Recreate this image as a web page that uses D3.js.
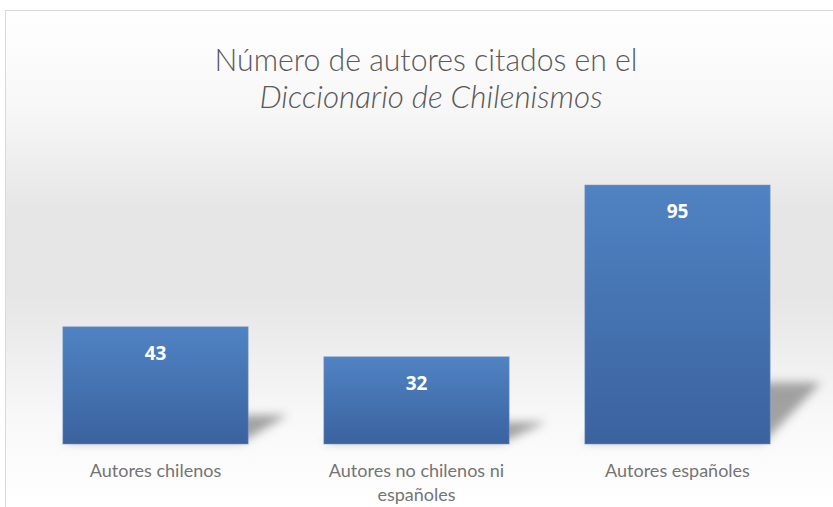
<!DOCTYPE html>
<html>
<head>
<meta charset="utf-8">
<script src="https://cdn.jsdelivr.net/npm/d3@7"></script>
<style>
  html, body { margin: 0; padding: 0; background: #fff; }
  svg { display: block; }
</style>
</head>
<body>
<svg id="chart"></svg>
<script>
const categories = [["Autores chilenos"], ["Autores no chilenos ni", "españoles"], ["Autores españoles"]]
const values = [43, 32, 95]
const titleLines = ["Número de autores citados en el", "Diccionario de Chilenismos"]

const width = 833
const height = 507
const svg = d3.select("#chart").attr("width", width).attr("height", height)

const defs = svg.append("defs")

// background of the chart area: white, grey in the middle, white again
const bg = defs.append("linearGradient").attr("id", "bg")
  .attr("gradientUnits", "userSpaceOnUse")
  .attr("x1", 0).attr("y1", 10).attr("x2", 0).attr("y2", 507)
bg.append("stop").attr("offset", "0%").attr("stop-color", "#ffffff")
bg.append("stop").attr("offset", "20%").attr("stop-color", "#f7f7f7")
bg.append("stop").attr("offset", "40%").attr("stop-color", "#e6e6e6")
bg.append("stop").attr("offset", "58%").attr("stop-color", "#e6e6e6")
bg.append("stop").attr("offset", "82%").attr("stop-color", "#f8f8f8")
bg.append("stop").attr("offset", "100%").attr("stop-color", "#ffffff")

const barGrad = defs.append("linearGradient").attr("id", "barGrad")
  .attr("x1", 0).attr("y1", 0).attr("x2", 0).attr("y2", 1)
barGrad.append("stop").attr("offset", "0%").attr("stop-color", "#5083c2")
barGrad.append("stop").attr("offset", "100%").attr("stop-color", "#3a629f")

defs.append("filter").attr("id", "blur")
  .attr("x", "-30%").attr("y", "-50%").attr("width", "160%").attr("height", "200%")
  .append("feGaussianBlur").attr("stdDeviation", 5)

svg.append("rect")
  .attr("x", 5.5).attr("y", 10.5)
  .attr("width", 840).attr("height", 510)
  .attr("fill", "url(#bg)")
  .attr("stroke", "#d9d9d9")

// title
svg.append("text")
  .attr("x", 426).attr("y", 71)
  .attr("text-anchor", "middle")
  .attr("font-family", "Lato, sans-serif")
  .attr("font-weight", 300)
  .attr("font-size", 31)
  .attr("textLength", 423)
  .attr("lengthAdjust", "spacingAndGlyphs")
  .attr("fill", "#595959")
  .text(titleLines[0])

svg.append("text")
  .attr("x", 431).attr("y", 108)
  .attr("text-anchor", "middle")
  .attr("font-family", "Lato, sans-serif")
  .attr("font-weight", 300)
  .attr("font-style", "italic")
  .attr("font-size", 31)
  .attr("textLength", 343)
  .attr("lengthAdjust", "spacingAndGlyphs")
  .attr("fill", "#595959")
  .text(titleLines[1])

const x = d3.scaleBand()
  .domain(d3.range(values.length))
  .range([25, 808])
  .paddingInner(0.29)
  .paddingOuter(0.145)

const y = d3.scaleLinear()
  .domain([0, 100])
  .range([444, 171.4])

// perspective shadows behind the bars
svg.append("g")
  .selectAll("path")
  .data(values)
  .join("path")
  .attr("filter", "url(#blur)")
  .attr("fill", "#8c8c8c")
  .attr("opacity", 0.8)
  .attr("d", (d, i) => {
    const x0 = x(i), x1 = x(i) + x.bandwidth()
    const b = y(0) - 2
    const h = (y(0) - y(d)) * 0.23
    const dx = 30 + h * 0.35
    return `M${x0},${b}L${x1 - 6},${b}L${x1 + dx},${b - h}L${x0 + dx},${b - h}Z`
  })

svg.append("g")
  .selectAll("rect")
  .data(values)
  .join("rect")
  .attr("x", (d, i) => x(i))
  .attr("y", d => y(d))
  .attr("width", x.bandwidth())
  .attr("height", d => y(0) - y(d))
  .attr("fill", "url(#barGrad)")
  .attr("stroke", "#6f93c8")
  .attr("stroke-opacity", 0.5)
  .attr("stroke-width", 1)

// value labels
svg.append("g")
  .selectAll("text")
  .data(values)
  .join("text")
  .attr("x", (d, i) => x(i) + x.bandwidth() / 2)
  .attr("y", d => y(d) + 33)
  .attr("text-anchor", "middle")
  .attr("font-family", "'Open Sans', sans-serif")
  .attr("font-weight", 700)
  .attr("font-size", 19)
  .attr("fill", "#ffffff")
  .text(d => d)

// category labels
const cat = svg.append("g")
  .selectAll("text")
  .data(categories)
  .join("text")
  .attr("x", (d, i) => x(i) + x.bandwidth() / 2)
  .attr("y", 477)
  .attr("text-anchor", "middle")
  .attr("font-family", "Lato, sans-serif")
  .attr("font-size", 18)
  .attr("fill", "#747474")

cat.selectAll("tspan")
  .data(d => d)
  .join("tspan")
  .attr("x", function () { return d3.select(this.parentNode).attr("x") })
  .attr("dy", (d, i) => i === 0 ? 0 : 24)
  .text(d => d)
</script>
</body>
</html>
